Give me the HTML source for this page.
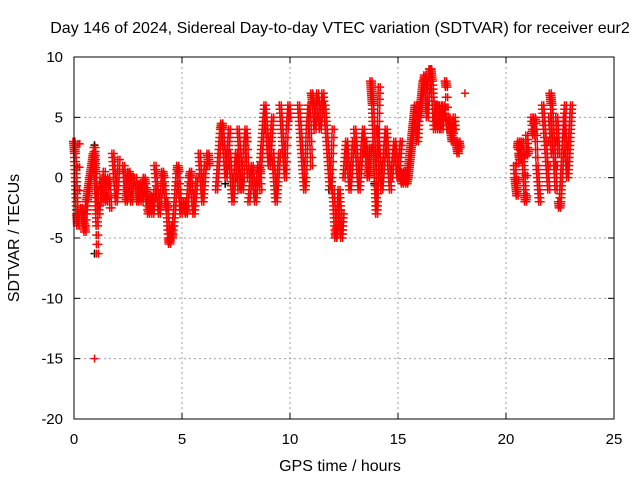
<!DOCTYPE html>
<html><head><meta charset="utf-8"><style>
html,body{margin:0;padding:0;background:#fff;}
svg{display:block;font-family:"Liberation Sans",sans-serif;}
</style></head><body>
<svg id="chart" width="640" height="480" viewBox="0 0 640 480">
<text x="340" y="33" font-size="16" text-anchor="middle">Day 146 of 2024, Sidereal Day-to-day VTEC variation (SDTVAR) for receiver eur2</text>
<text transform="translate(19,238) rotate(-90)" font-size="16" text-anchor="middle">SDTVAR / TECUs</text>
<text x="340" y="471" font-size="16" text-anchor="middle">GPS time / hours</text>
<g id="grid"></g>
<g id="ticks"></g>
<g id="black"></g>
<g id="marks"></g>
<rect x="74" y="57" width="540" height="362" fill="none" stroke="#000" stroke-width="1"/>
</svg>
<script>
const xTicks=[0,5,10,15,20,25];
const yTicks=[-20,-15,-10,-5,0,5,10];
const clusterStart=[0.0,0.35,0.55,0.95,1.05,1.8,2.3,2.85,3.35,3.75,4.3,4.6,5.1,5.8,6.2,6.6,7.2,7.6,8.1,8.6,9.2,9.55,10.4,11.0,11.6,12.0,12.5,13.0,13.5,13.75,14.05,14.7,15.1,15.45,16.0,16.8,17.2,17.7,18.1,20.4,20.75,21.2,21.7,22.05,22.45,22.7,0.95];
const clusterStep=[0.02,0.04,0.04,0.02,0.05,0.04,0.04,0.05,0.05,0.05,0.03,0.04,0.05,0.04,0.02,0.04,0.04,0.04,0.05,0.04,0.04,0.04,0.04,0.04,0.04,0.03,0.04,0.04,0.04,0.02,0.04,0.05,0.05,0.03,0.03,0.04,0.04,0.04,0.02,0.03,0.03,0.04,0.04,0.03,0.03,0.03,0.02];
const clusterValues=[
[3,2.5,2,1,0,-1,-2,-3,-3.5,-4,-3,2.8],
[-2.5,-3,-3.5,-4,-4.5,-3,-2],
[-3,-2,-1.5,-1,-0.5,0,0.5,1,1.5,2,1,0,-1,-2],
[2.5,1.5,0.5,-1,-2,-3,-4,-6.3],
[-1,-2,-3,-1,0,-2,-1,0.5,-1.5,-2,-0.5,0,-1,-2.5],
[2,1,0,-1,-2,-1,0,1.5],
[1,0,-1,-2,-1.5,-0.5,0.5,0,-1,-2,-1,0],
[0,-1,-2,-1.5,-0.5,-1,-2,-1,0,-0.5,-1.5,-2],
[-1,-2,-3,-2.5,-1.5,-2,-3,-2,-1],
[1,0,-1,-2,-3,-2,-1,0.5,0,-1,-2,-2.5],
[-2,-3,-4,-5,-5.5,-5,-4,-4.5,-5,-4],
[-4,-3,-2,-1,0,1,0.5,-1,-2,-3,-2],
[-2,-2.5,-3,-2,-1,0,0.5,-1,-2,-3,-2,-1,0],
[2,1,0,-1,-2,-1,0,1],
[2,1.5,1],
[-1,0,1,2,3,4,4.5,4,3,2,1,0,1,2,3,4],
[2,1,0,-1,-2,-1,0,1,2,1,0,-1],
[4,3,2,1,0,-1,0,2,3,4,3,1,0],
[-2,-1,0,1,0,-1,-2,-1,0,1,0.5,-1],
[0,1,2,3,4,5,6,5,4,3,2,1,2,3,4,5],
[2,1,0,-1,-2,-1,0,1,2],
[6,5,4,3,2,1,0,2,4,5,6,5],
[6,5,4,3,2,1,0,-1,0,2,4,5,6,5,3,1],
[7,6.5,6,5,4,5,6,7,6,5,4,5,6,7,6],
[6,5,4,3,2,1,0,-1,0,2,4],
[-1,-2,-3,-4,-5,-4.5,-4,-3,-2,-1,-2,-3,-4,-5,-4,-3],
[0,1,2,3,2,1,0,-1,0,1,2,3],
[4,3,2,1,0,-1,0,1,2,3,4,3,2],
[3,2,1,0,0.5,1.5,2.5],
[8,7.5,7,6.5,6,5,4,3,2,1,0,-1,-2,-3,-2,0,2,4,6,7.5],
[4,3,2,1,0,-1,0,1,2,3,4,3,2,1,0,-1],
[0,1,2,3,2,1,0,1,2,3],
[0.5,0,-0.5,0,0.5,0,-0.5,0],
[0,0.5,1,1.5,2,2.5,3,3.5,4,4.5,5,5.5,6,5,4,3,4,5,6],
[5,5.5,6,6.5,7,7.5,8,8,8.5,8,7,6,5,6,7,8,9,9,8.5,8,7,6,5,4,5,6],
[6,5,4,5,6,5,4,5,6,5],
[8,7.5,5,4,5,4.5,4,3.5,3,4,5,4],
[3,2.5,2,3,2.5],
[7],
[1,0,-0.5,-1,-1.5,2.5,3,2,1.5,2],
[3,2,1,0,-1,-2,-1.5,3.5,2.5,2],
[5,4,3.5,5,4.5,3,1,0,-1,-2],
[6,5,4,3,2,1,0,-1,5,4,3,2],
[7,6.5,6,5,4,3,2,1,0,-1,5,4,3,2],
[-2,-2.5,-2,-1,0,1,2,3,4,5,6],
[5,4,3,2,1,0,1,2,3,4,5,6],
[-15]
];
const blackTimes=[0.95,0.95,1.0,9.4,11.8,13.9,7.0,3.0];
const blackValues=[2.7,-6.3,1.5,-1,-1,-0.5,-0.5,-1];

const NS="http://www.w3.org/2000/svg";
const X0=74,X1=614,Y0=419,Y1=57;
function xs(t){return X0+(t-0)/(25-0)*(X1-X0);}
function ys(v){return Y0-(v-(-20))/(10-(-20))*(Y0-Y1);}
const grid=document.getElementById('grid'),ticks=document.getElementById('ticks');
function mk(tag,attrs,parent){const e=document.createElementNS(NS,tag);for(const k in attrs)e.setAttribute(k,attrs[k]);parent.appendChild(e);return e;}
xTicks.forEach(t=>{
  const x=xs(t);
  if(t>0&&t<25){const g=mk('line',{x1:x,x2:x,y1:Y1,y2:Y0,stroke:'#a0a0a0','stroke-dasharray':'2,3'},grid);
  
  }
  mk('line',{x1:x,x2:x,y1:Y0,y2:Y0-6,stroke:'#000'},ticks);
  mk('line',{x1:x,x2:x,y1:Y1,y2:Y1+6,stroke:'#000'},ticks);
  const l=mk('text',{x:x,y:Y0+25,'font-size':15,'text-anchor':'middle'},ticks);l.textContent=t;
  
  
});
yTicks.forEach(v=>{
  const y=ys(v);
  if(v>-20&&v<10){const g=mk('line',{x1:X0,x2:X1,y1:y,y2:y,stroke:'#a0a0a0','stroke-dasharray':'2,3'},grid);
  
  }
  mk('line',{x1:X0,x2:X0+6,y1:y,y2:y,stroke:'#000'},ticks);
  mk('line',{x1:X1,x2:X1-6,y1:y,y2:y,stroke:'#000'},ticks);
  const l=mk('text',{x:X0-11,y:y+5,'font-size':15,'text-anchor':'end'},ticks);l.textContent=v;
  
  
});
function plus(t,v,color,parent,name,w){
  const x=xs(t),y=ys(v);
  const p=mk('path',{d:`M${x-4-w},${y}H${x+4+w}M${x-w},${y-4}V${y+4}M${x+w},${y-4}V${y+4}`,stroke:color,'stroke-width':1.5,fill:'none'},parent);
  
  
}
const marks=document.getElementById('marks');
clusterValues.forEach((vals,ci)=>{
  const w=vals.length>1?1:0;
  vals.forEach((v,i)=>{
    const t=clusterStart[ci]+i*clusterStep[ci];
    plus(t,v,'#ff0000',marks,'data-point',w);
    if(i>0){
      const vp=vals[i-1],st=clusterStep[ci];
      for(let k=1;k<3;k++){
        plus(t-st*k/3,v+(vp-v)*k/3,'#ff0000',marks,'data-point',w);
      }
    }
  });
});
const black=document.getElementById('black');
blackTimes.forEach((t,i)=>plus(t,blackValues[i],'#000',black,'black-point',0));
</script>
</body></html>
